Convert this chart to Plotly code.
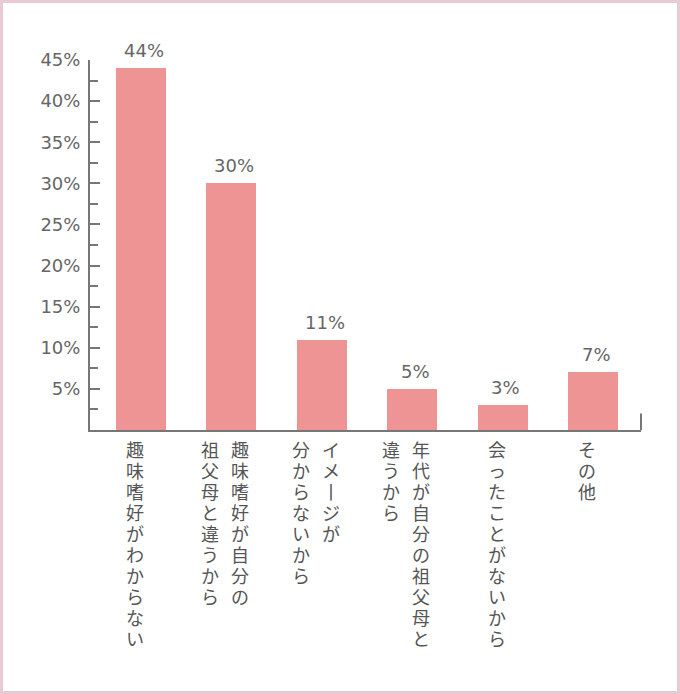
import plotly.graph_objects as go

# survey answers (percent)
categories = [
    "趣味嗜好がわからない",
    "趣味嗜好が自分の祖父母と違うから",
    "イメージが分からないから",
    "年代が自分の祖父母と違うから",
    "会ったことがないから",
    "その他",
]
# how each label is broken into vertical columns (right to left)
label_columns = [
    ["趣味嗜好がわからない"],
    ["趣味嗜好が自分の", "祖父母と違うから"],
    ["イメージが", "分からないから"],
    ["年代が自分の祖父母と", "違うから"],
    ["会ったことがないから"],
    ["その他"],
]
values = [44, 30, 11, 5, 3, 7]
tick_vals = [5, 10, 15, 20, 25, 30, 35, 40, 45]
tick_text = ["5%", "10%", "15%", "20%", "25%", "30%", "35%", "40%", "45%"]

W, H = 680, 694
ML, MR, MT, MB = 90, 39, 60, 264
PW, PH = W - ML - MR, H - MT - MB

GRAY = "#777777"
TXT = "#666666"
BAR = "#ef9494"
CHAR_PITCH = 21  # vertical step between stacked characters


def upright(c):
    # long vowel mark is drawn as a vertical stroke in vertical writing
    return "丨" if c == "ー" else c


fig = go.Figure()
fig.add_trace(go.Bar(
    x=list(range(len(values))),
    y=values,
    width=0.553,
    marker=dict(color=BAR, line=dict(width=0)),
    hovertext=categories,
))

annotations = []
# value labels above the bars
for i, v in enumerate(values):
    annotations.append(dict(
        x=i, xref="x", y=v, yref="y",
        text=f"{v}%", showarrow=False,
        xanchor="center", yanchor="bottom", xshift=3, yshift=5,
        font=dict(family="DejaVu Sans", size=18, color=TXT),
    ))
# category labels written vertically, columns right to left
for i, cols in enumerate(label_columns):
    n = len(cols)
    for k, col in enumerate(cols):
        for j, c in enumerate(col):
            annotations.append(dict(
                x=i, xref="x", y=0, yref="paper",
                text=upright(c), showarrow=False,
                xanchor="center", yanchor="top",
                xshift=15 * (n - 1) - 30 * k - 6,
                yshift=-9 - CHAR_PITCH * j,
                font=dict(family="Liberation Sans, Noto Sans CJK JP",
                          size=18, color="#555555"),
            ))

shapes = [
    # small upright tick closing the x axis on the right
    dict(type="line", xref="paper", yref="y", x0=1, x1=1, y0=0, y1=2,
         line=dict(color=GRAY, width=2)),
    # outer frame
    dict(type="rect", xref="paper", yref="paper",
         x0=-(ML - 1.5) / PW, x1=1 + (MR - 1.5) / PW,
         y0=-(MB - 1.5) / PH, y1=1 + (MT - 1.5) / PH,
         line=dict(color="#e6cbd5", width=3)),
]

fig.update_layout(
    width=W, height=H,
    margin=dict(l=ML, r=MR, t=MT, b=MB),
    paper_bgcolor="white", plot_bgcolor="white",
    showlegend=False,
    bargap=0,
    annotations=annotations,
    shapes=shapes,
    xaxis=dict(
        range=[-0.564, 5.53],
        showticklabels=False, ticks="", showgrid=False, zeroline=False,
        showline=True, linecolor=GRAY, linewidth=2,
    ),
    yaxis=dict(
        range=[0, 45],
        tickmode="array", tickvals=tick_vals, ticktext=tick_text,
        ticks="inside", ticklen=10, tickwidth=2, tickcolor=GRAY,
        minor=dict(tickmode="linear", tick0=0, dtick=2.5, ticks="inside",
                   ticklen=8, tickwidth=2, tickcolor=GRAY),
        tickfont=dict(family="DejaVu Sans", size=18, color=TXT),
        ticklabelstandoff=4,
        showgrid=False, zeroline=False,
        showline=True, linecolor=GRAY, linewidth=2,
    ),
)

fig.write_html("out.html", config={"displayModeBar": False},
               post_script="document.body.style.margin='0';")
